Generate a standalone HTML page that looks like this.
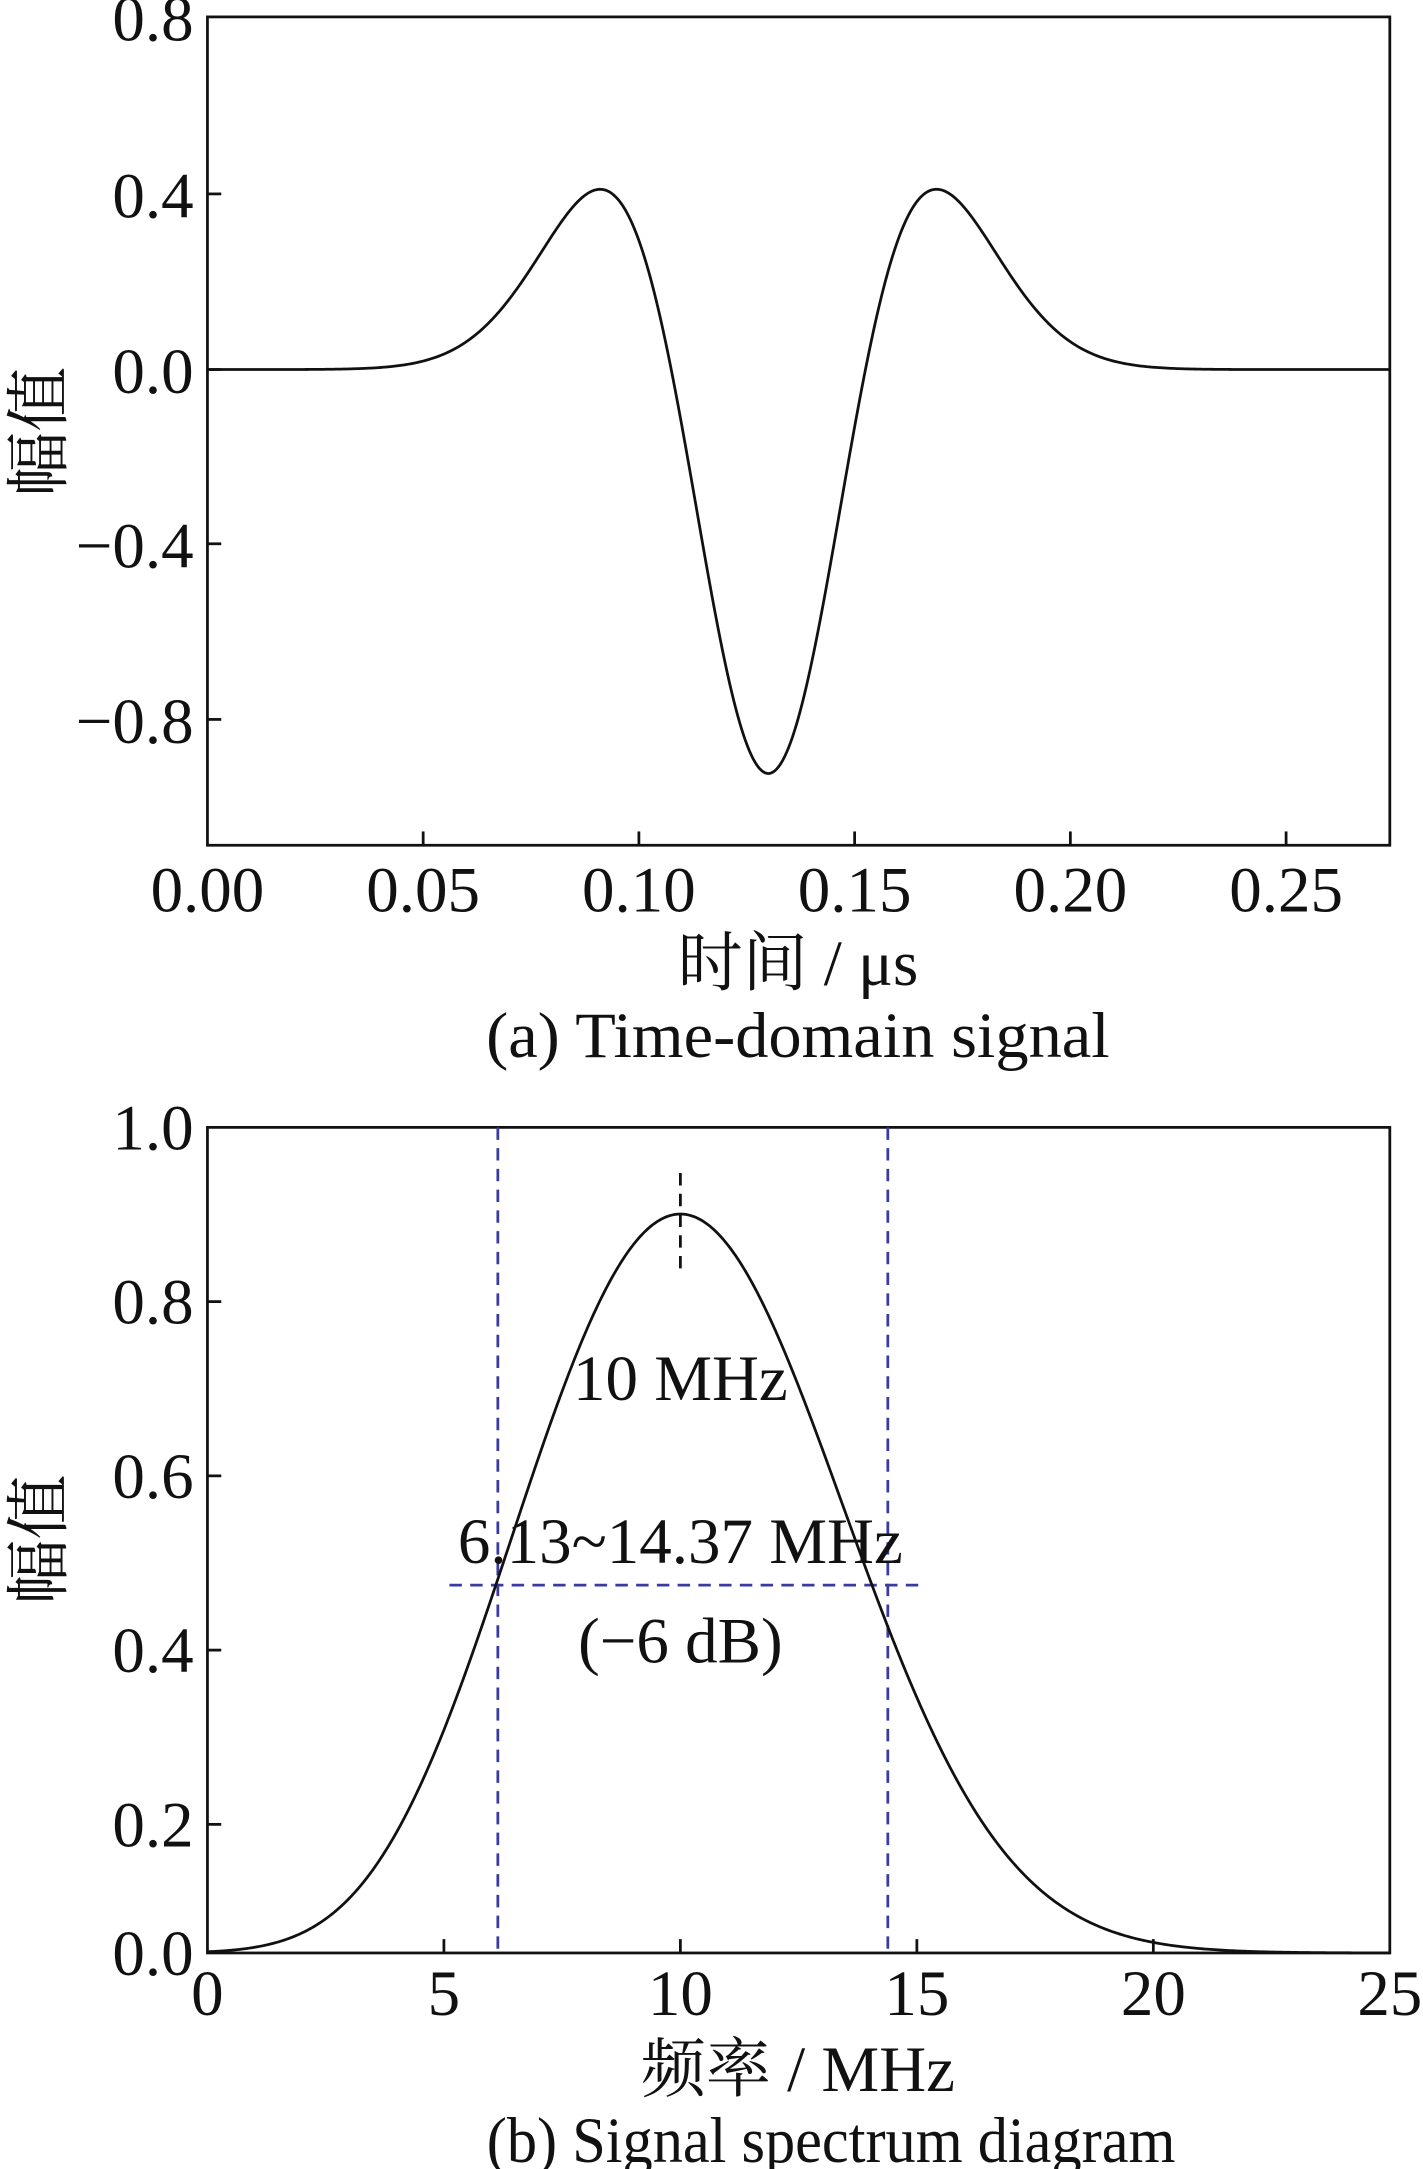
<!DOCTYPE html>
<html><head><meta charset="utf-8"><style>html,body{margin:0;padding:0;background:#fff}svg{display:block}</style></head>
<body>
<svg width="1423" height="2169" viewBox="0 0 1029 1568" xmlns="http://www.w3.org/2000/svg" font-family="'Liberation Serif','Noto Serif CJK SC',serif" font-size="47" fill="#111">
<g id="top">
<rect x="150" y="12" width="855" height="599" fill="none" stroke="#111" stroke-width="2"/>
<path id="p1" fill="none" stroke="#111" stroke-width="2"/>
<g stroke="#111" stroke-width="2">
<line x1="150" y1="140" x2="160" y2="140"/><line x1="150" y1="267" x2="160" y2="267"/><line x1="150" y1="393" x2="160" y2="393"/><line x1="150" y1="520" x2="160" y2="520"/>
<line x1="306" y1="611" x2="306" y2="601"/><line x1="462" y1="611" x2="462" y2="601"/><line x1="618" y1="611" x2="618" y2="601"/><line x1="774" y1="611" x2="774" y2="601"/><line x1="930" y1="611" x2="930" y2="601"/>
</g>
<g text-anchor="end"><text x="140" y="29">0.8</text><text x="140" y="157">0.4</text><text x="140" y="284">0.0</text><text x="140" y="410">−0.4</text><text x="140" y="537">−0.8</text></g>
<g text-anchor="middle"><text x="150" y="659">0.00</text><text x="306" y="659">0.05</text><text x="462" y="659">0.10</text><text x="618" y="659">0.15</text><text x="774" y="659">0.20</text><text x="930" y="659">0.25</text>
<text x="577" y="712">时间 / μs</text><text x="577" y="764" textLength="451" lengthAdjust="spacingAndGlyphs">(a) Time-domain signal</text></g>
<text transform="translate(44,312) rotate(-90)" text-anchor="middle">幅值</text>
</g>
<g id="bot">
<rect x="150" y="815" width="855" height="597" fill="none" stroke="#111" stroke-width="2"/>
<g stroke="#3a3aa0" stroke-width="2" stroke-dasharray="9,6">
<line x1="360" y1="815" x2="360" y2="1412"/><line x1="642" y1="815" x2="642" y2="1412"/><line x1="325" y1="1146" x2="668" y2="1146"/></g>
<line x1="492" y1="848" x2="492" y2="922" stroke="#111" stroke-width="2" stroke-dasharray="9,6"/>
<path id="p2" fill="none" stroke="#111" stroke-width="2"/>
<g stroke="#111" stroke-width="2">
<line x1="150" y1="941" x2="160" y2="941"/><line x1="150" y1="1067" x2="160" y2="1067"/><line x1="150" y1="1193" x2="160" y2="1193"/><line x1="150" y1="1319" x2="160" y2="1319"/>
<line x1="321" y1="1412" x2="321" y2="1402"/><line x1="492" y1="1412" x2="492" y2="1402"/><line x1="663" y1="1412" x2="663" y2="1402"/><line x1="834" y1="1412" x2="834" y2="1402"/>
</g>
<g text-anchor="end"><text x="140" y="831">1.0</text><text x="140" y="957">0.8</text><text x="140" y="1083">0.6</text><text x="140" y="1209">0.4</text><text x="140" y="1335">0.2</text><text x="140" y="1428">0.0</text></g>
<g text-anchor="middle"><text x="150" y="1457">0</text><text x="321" y="1457">5</text><text x="492" y="1457">10</text><text x="663" y="1457">15</text><text x="834" y="1457">20</text><text x="1005" y="1457">25</text>
<text x="492" y="1012">10 MHz</text><text x="492" y="1130">6.13~14.37 MHz</text><text x="492" y="1202">(−6 dB)</text>
<text x="577" y="1512">频率 / MHz</text><text x="601" y="1563" textLength="498" lengthAdjust="spacingAndGlyphs">(b) Signal spectrum diagram</text></g>
<text transform="translate(44,1113) rotate(-90)" text-anchor="middle">幅值</text>
</g>
<script>
var d="";for(var i=0;i<=600;i++){var t=0.274*i/600;var a=Math.pow(Math.PI*10*(t-0.13),2);var v=-0.92*(1-2*a)*Math.exp(-a);d+=(i?"L":"M")+(150+t*3120).toFixed(2)+","+(267-v*317.5).toFixed(2);}
document.getElementById("p1").setAttribute("d",d);
d="";for(var i=0;i<=600;i++){var f=25*i/600;var v;if(f<10){var u=(10-f)/3.43;v=0.895*Math.exp(-0.5*u*u*(1+0.06*u*u));}else{v=0.895*Math.exp(-Math.pow(f-10,2)/(2*3.43*3.43));}d+=(i?"L":"M")+(150+f*34.2).toFixed(2)+","+(1412-v*597).toFixed(2);}
document.getElementById("p2").setAttribute("d",d);
</script>
</svg>
</body></html>
